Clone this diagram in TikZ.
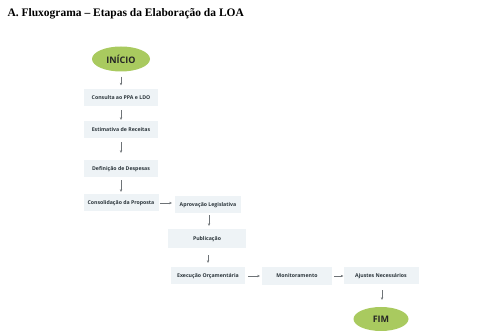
\documentclass[tikz,border=0pt]{standalone}
\usepackage{fontspec}
\setmainfont{Liberation Serif}
\newfontfamily\boxfont{Open Sans}
\usetikzlibrary{shapes.geometric,arrows.meta}
\definecolor{boxfill}{HTML}{EEF3F6}
\definecolor{ellfill}{HTML}{A9CA5F}
\definecolor{boxtext}{HTML}{2A343A}
\definecolor{arrowc}{HTML}{6E7377}
\tikzset{
  stepbox/.style={fill=boxfill, draw=none, minimum width=74pt, minimum height=17pt, inner sep=0pt,
    text height=4pt, text depth=1.3pt,
    font=\boxfont\bfseries\fontsize{5.2pt}{6pt}\selectfont, text=boxtext},
  terminal/.style={ellipse, fill=ellfill, draw=none, minimum width=58pt, minimum height=25pt, inner sep=0pt,
    font=\boxfont\bfseries\fontsize{9pt}{10pt}\selectfont, text=black!85},
  flow/.style={draw=arrowc, line width=0.4pt, -{Stealth[length=2.6pt,width=2.4pt]}}
}
\begin{document}
\begin{tikzpicture}[x=1pt,y=-1pt]
\useasboundingbox (0,0) rectangle (480,331);
\node[anchor=west, font=\bfseries\fontsize{11.5pt}{13pt}\selectfont] (title) at (4,14) {A. Fluxograma – Etapas da Elaboração da LOA};
\node[terminal] (inicio) at (121,59) {INÍCIO};
\node[stepbox] (c1) at (121,98) {Consulta ao PPA e LDO};
\node[stepbox] (c2) at (121,130) {Estimativa de Receitas};
\node[stepbox] (c3) at (121,169) {Definição de Despesas};
\node[stepbox, minimum width=75pt] (c4) at (121,203) {Consolidação da Proposta};
\node[stepbox, minimum width=66pt] (ap) at (208,205) {Aprovação Legislativa};
\node[stepbox, minimum width=78pt, minimum height=19pt] (pub) at (207,239) {Publicação};
\node[stepbox, minimum width=74pt] (ex) at (208,276) {Execução Orçamentária};
\node[stepbox, minimum width=70pt, minimum height=18pt] (mon) at (297,276) {Monitoramento};
\node[stepbox, minimum width=75pt] (aj) at (381,276) {Ajustes Necessários};
\node[terminal, minimum width=55pt, minimum height=24pt] (fim) at (381,319) {FIM};
\draw[flow, shorten <=5pt, shorten >=4pt] (inicio) -- (c1);
\draw[flow, shorten <=3.5pt, shorten >=1.5pt] (c1) -- (c2);
\draw[flow, shorten <=3.5pt, shorten >=7.5pt] (c2) -- (c3);
\draw[flow, shorten <=2.5pt, shorten >=2.5pt] (c3) -- (c4);
\draw[flow, shorten <=1.5pt, shorten >=3pt] (c4.east) -- (c4.east -| ap.west);
\draw[flow, shorten <=1.5pt, shorten >=3.5pt] ([xshift=1pt]ap.south) -- ([xshift=1pt]ap.south |- pub.north);
\draw[flow, shorten <=6.5pt, shorten >=4.5pt] ([xshift=1pt]pub.south) -- ([xshift=1pt]pub.south |- ex.north);
\draw[flow, shorten <=3pt, shorten >=2pt] (ex.east) -- (ex.east -| mon.west);
\draw[flow, shorten <=2pt, shorten >=0pt] (mon.east |- aj.west) -- (aj.west);
\draw[flow, shorten <=5.5pt, shorten >=7pt] ([xshift=1pt]aj.south) -- ([xshift=1pt]aj.south |- fim.north);
\end{tikzpicture}
\end{document}
